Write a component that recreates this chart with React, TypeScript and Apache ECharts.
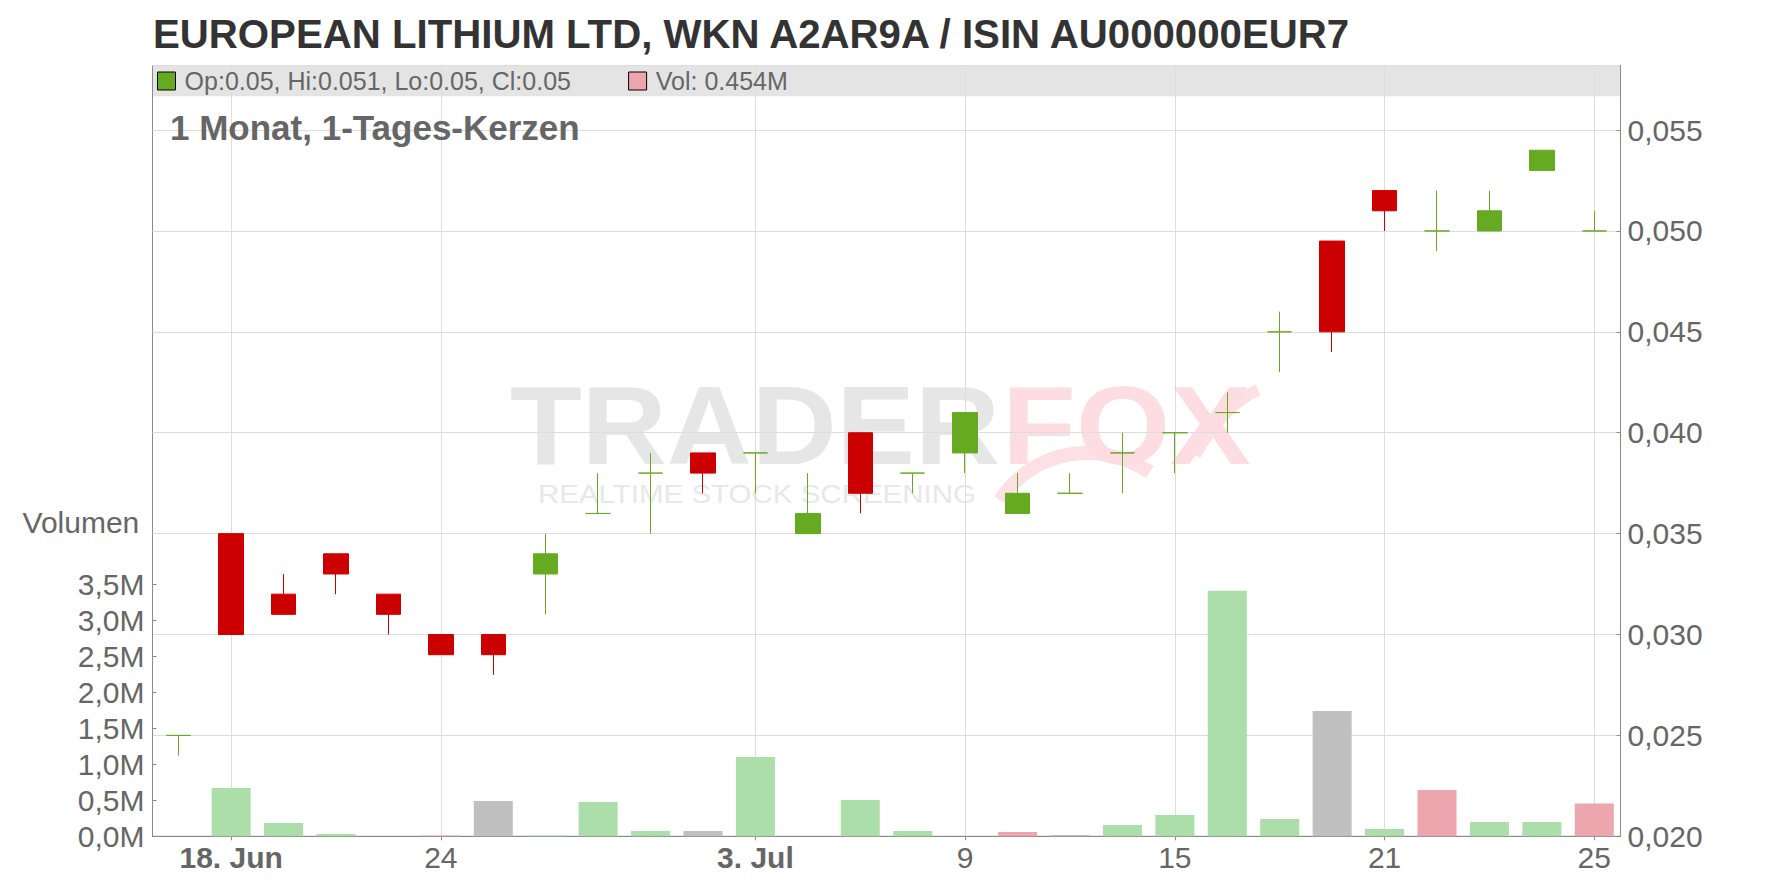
import React, { useEffect, useRef } from "react";
import * as echarts from "echarts";

const FONT = '"Liberation Sans", Arial, sans-serif';
const GREEN = "#66aa22";
const RED = "#cc0000";
const VOL_UP = "#acdeaa";
const VOL_DOWN = "#eea6ae";
const VOL_FLAT = "#c0c0c0";

const dates = [
  "2025-06-17", "2025-06-18", "2025-06-19", "2025-06-20", "2025-06-23", "2025-06-24",
  "2025-06-25", "2025-06-26", "2025-06-27", "2025-06-30", "2025-07-01", "2025-07-03",
  "2025-07-04", "2025-07-07", "2025-07-08", "2025-07-09", "2025-07-10", "2025-07-11",
  "2025-07-14", "2025-07-15", "2025-07-16", "2025-07-17", "2025-07-18", "2025-07-21",
  "2025-07-22", "2025-07-23", "2025-07-24", "2025-07-25",
];

const openPrices = [
  0.025, 0.035, 0.032, 0.034, 0.032, 0.030, 0.030, 0.033, 0.036, 0.038, 0.039, 0.039,
  0.035, 0.040, 0.038, 0.039, 0.036, 0.037, 0.039, 0.040, 0.041, 0.045, 0.0495, 0.052,
  0.050, 0.050, 0.053, 0.050,
];
const highPrices = [
  0.025, 0.035, 0.033, 0.034, 0.032, 0.030, 0.030, 0.035, 0.038, 0.039, 0.039, 0.039,
  0.038, 0.040, 0.038, 0.041, 0.038, 0.038, 0.040, 0.040, 0.042, 0.046, 0.0495, 0.052,
  0.052, 0.052, 0.054, 0.051,
];
const lowPrices = [
  0.024, 0.030, 0.031, 0.032, 0.030, 0.029, 0.028, 0.031, 0.036, 0.035, 0.037, 0.037,
  0.035, 0.036, 0.037, 0.038, 0.036, 0.037, 0.037, 0.038, 0.040, 0.043, 0.044, 0.050,
  0.049, 0.050, 0.053, 0.050,
];
const closePrices = [
  0.025, 0.030, 0.031, 0.033, 0.031, 0.029, 0.029, 0.034, 0.036, 0.038, 0.038, 0.039,
  0.036, 0.037, 0.038, 0.041, 0.037, 0.037, 0.039, 0.040, 0.041, 0.045, 0.045, 0.051,
  0.050, 0.051, 0.054, 0.050,
];
// volume in millions
const volumes = [
  0, 0.67, 0.185, 0.032, 0, 0.01, 0.49, 0.012, 0.477, 0.074, 0.074, 1.1,
  0, 0.504, 0.074, 0, 0.06, 0.018, 0.157, 0.296, 3.41, 0.24, 1.74, 0.1,
  0.643, 0.2, 0.2, 0.454,
];

const tickDates = ["2025-06-18", "2025-06-24", "2025-07-03", "2025-07-09", "2025-07-15", "2025-07-21", "2025-07-25"];
const tickTexts = ["18. Jun", "24", "3. Jul", "9", "15", "21", "25"];
const boldTicks = ["18. Jun", "3. Jul"];

const titleText = "EUROPEAN LITHIUM LTD, WKN A2AR9A / ISIN AU000000EUR7";
const subtitleText = "1 Monat, 1-Tages-Kerzen";
const ohlcText = "Op:0.05, Hi:0.051, Lo:0.05, Cl:0.05";
const volText = "Vol: 0.454M";

const GRID_LEFT = 152.5;
const GRID_RIGHT = 155.5;
const GRID_TOP = 65.5;
const GRID_BOTTOM = 51.7;
const PLOT_W = 1776 - GRID_LEFT - GRID_RIGHT;

function buildOption() {
  const candleData = dates.map((_, i) => {
    const c = closePrices[i] >= openPrices[i] ? GREEN : RED;
    return {
      value: [openPrices[i], closePrices[i], lowPrices[i], highPrices[i]],
      itemStyle: { color: c, color0: c, borderColor: c, borderColor0: c },
    };
  });
  const volData = volumes.map((v, i) => {
    let col = VOL_UP;
    if (i > 0) {
      if (closePrices[i] < closePrices[i - 1]) col = VOL_DOWN;
      else if (closePrices[i] === closePrices[i - 1]) col = VOL_FLAT;
    }
    return { value: v * 1e6, itemStyle: { color: col } };
  });
  const isTick = (_: number, val: string) => tickDates.indexOf(val) >= 0;

  return {
    animation: false,
    backgroundColor: "#ffffff",
    textStyle: { fontFamily: FONT },
    grid: [
      {
        left: GRID_LEFT, right: GRID_RIGHT, top: GRID_TOP, bottom: GRID_BOTTOM,
        show: true, borderColor: "#8a8a8a", borderWidth: 1, backgroundColor: "transparent",
      },
      { left: GRID_LEFT, right: GRID_RIGHT, top: 584.3, bottom: GRID_BOTTOM },
    ],
    xAxis: [
      {
        type: "category", gridIndex: 0, data: dates, boundaryGap: true,
        axisLine: { show: true, lineStyle: { color: "#8a8a8a" } },
        axisTick: { show: true, alignWithLabel: true, interval: isTick, length: 4, lineStyle: { color: "#8a8a8a" } },
        splitLine: { show: true, alignWithLabel: true, interval: isTick, lineStyle: { color: "#dddddd", width: 1 } },
        axisLabel: {
          interval: isTick, margin: 6, fontSize: 30, color: "#666666", fontFamily: FONT,
          formatter: (val: string) => {
            const t = tickTexts[tickDates.indexOf(val)] || "";
            return boldTicks.indexOf(t) >= 0 ? `{b|${t}}` : t;
          },
          rich: { b: { fontSize: 30, fontWeight: "bold", color: "#666666", fontFamily: FONT } },
        },
      },
      {
        type: "category", gridIndex: 1, data: dates, boundaryGap: true, show: false,
      },
    ],
    yAxis: [
      {
        type: "value", gridIndex: 0, position: "right", min: 0.02, max: 0.0582, interval: 0.005,
        axisLine: { show: true, lineStyle: { color: "#8a8a8a" } },
        axisTick: { show: true, inside: true, length: 4, lineStyle: { color: "#8a8a8a" } },
        splitLine: { show: true, lineStyle: { color: "#dddddd", width: 1 } },
        axisLabel: {
          showMaxLabel: false, margin: 7, fontSize: 30, color: "#666666", fontFamily: FONT,
          formatter: (v: number) => v.toFixed(3).replace(".", ","),
        },
      },
      {
        type: "value", gridIndex: 1, position: "left", min: 0, max: 3.5e6, interval: 0.5e6,
        axisLine: { show: true, lineStyle: { color: "#8a8a8a" } },
        axisTick: { show: true, inside: true, length: 4, lineStyle: { color: "#8a8a8a" } },
        splitLine: { show: false },
        axisLabel: {
          margin: 8, fontSize: 30, color: "#666666", fontFamily: FONT,
          formatter: (v: number) => (v / 1e6).toFixed(1).replace(".", ",") + "M",
        },
      },
    ],
    series: [
      {
        type: "bar", name: "Volumen", xAxisIndex: 1, yAxisIndex: 1, data: volData,
        barWidth: 39, z: 2,
      },
      {
        type: "candlestick", name: "Kurs", xAxisIndex: 0, yAxisIndex: 0, data: candleData,
        barWidth: 25, z: 3,
        itemStyle: { borderWidth: 1 },
      },
    ],
    graphic: [
      {
        type: "rect", z: -1, silent: true,
        shape: { x: GRID_LEFT, y: GRID_TOP, width: PLOT_W, height: 30.8 },
        style: { fill: "#e4e4e4" },
      },
      {
        type: "bezierCurve", z: -1, silent: true,
        shape: { x1: 1000, y1: 500, cpx1: 1035, cpy1: 448, cpx2: 1100, cpy2: 440, x2: 1150, y2: 472 },
        style: { stroke: "#fde0e4", lineWidth: 14, fill: "none" },
      },
      {
        type: "bezierCurve", z: -1, silent: true,
        shape: { x1: 1195, y1: 455, cpx1: 1215, cpy1: 420, cpx2: 1235, cpy2: 400, x2: 1258, y2: 390 },
        style: { stroke: "#fde0e4", lineWidth: 12, fill: "none" },
      },
      {
        type: "text", z: -1, x: 510, y: 425, scaleX: 1.05, silent: true,
        style: { text: "TRADER", fontSize: 112, fontWeight: "bold", fontFamily: FONT, fill: "#e6e6e6", verticalAlign: "middle", align: "left" },
      },
      {
        type: "text", z: -1, x: 1002, y: 425, scaleX: 1.08, silent: true,
        style: { text: "FOX", fontSize: 112, fontWeight: "bold", fontFamily: FONT, fill: "#fddde1", verticalAlign: "middle", align: "left" },
      },
      {
        type: "text", z: -1, x: 538, y: 494, scaleX: 1.18, silent: true,
        style: { text: "REALTIME STOCK SCREENING", fontSize: 25, fontFamily: FONT, fill: "#e8e8e8", verticalAlign: "middle", align: "left" },
      },
      {
        type: "text", z: 10, x: 153, y: 34,
        style: { text: titleText, fontSize: 40.2, fontWeight: "bold", fontFamily: FONT, fill: "#333333", verticalAlign: "middle", align: "left" },
      },
      {
        type: "rect", z: 10, shape: { x: 157.5, y: 72, width: 18, height: 18 },
        style: { fill: GREEN, stroke: "#000000", lineWidth: 1 },
      },
      {
        type: "text", z: 10, x: 184.6, y: 81,
        style: { text: ohlcText, fontSize: 25, fontFamily: FONT, fill: "#666666", verticalAlign: "middle", align: "left" },
      },
      {
        type: "rect", z: 10, shape: { x: 628.6, y: 72, width: 18, height: 18 },
        style: { fill: VOL_DOWN, stroke: "#000000", lineWidth: 1 },
      },
      {
        type: "text", z: 10, x: 655.8, y: 81,
        style: { text: volText, fontSize: 25, fontFamily: FONT, fill: "#666666", verticalAlign: "middle", align: "left" },
      },
      {
        type: "text", z: 10, x: 170, y: 127.5,
        style: { text: subtitleText, fontSize: 35, fontWeight: "bold", fontFamily: FONT, fill: "#666666", verticalAlign: "middle", align: "left" },
      },
      {
        type: "text", z: 10, x: 139.3, y: 522,
        style: { text: "Volumen", fontSize: 30, fontFamily: FONT, fill: "#666666", verticalAlign: "middle", align: "right" },
      },
    ],
  };
}

export default function App() {
  const ref = useRef<HTMLDivElement>(null);
  useEffect(() => {
    if (!ref.current) return;
    const chart = echarts.init(ref.current, null, { renderer: "svg" });
    chart.setOption(buildOption() as any);
    return () => chart.dispose();
  }, []);
  return (
    <div
      ref={ref}
      style={{ position: "absolute", left: 0, top: 0, width: 1776, height: 888, background: "#fff" }}
    />
  );
}
